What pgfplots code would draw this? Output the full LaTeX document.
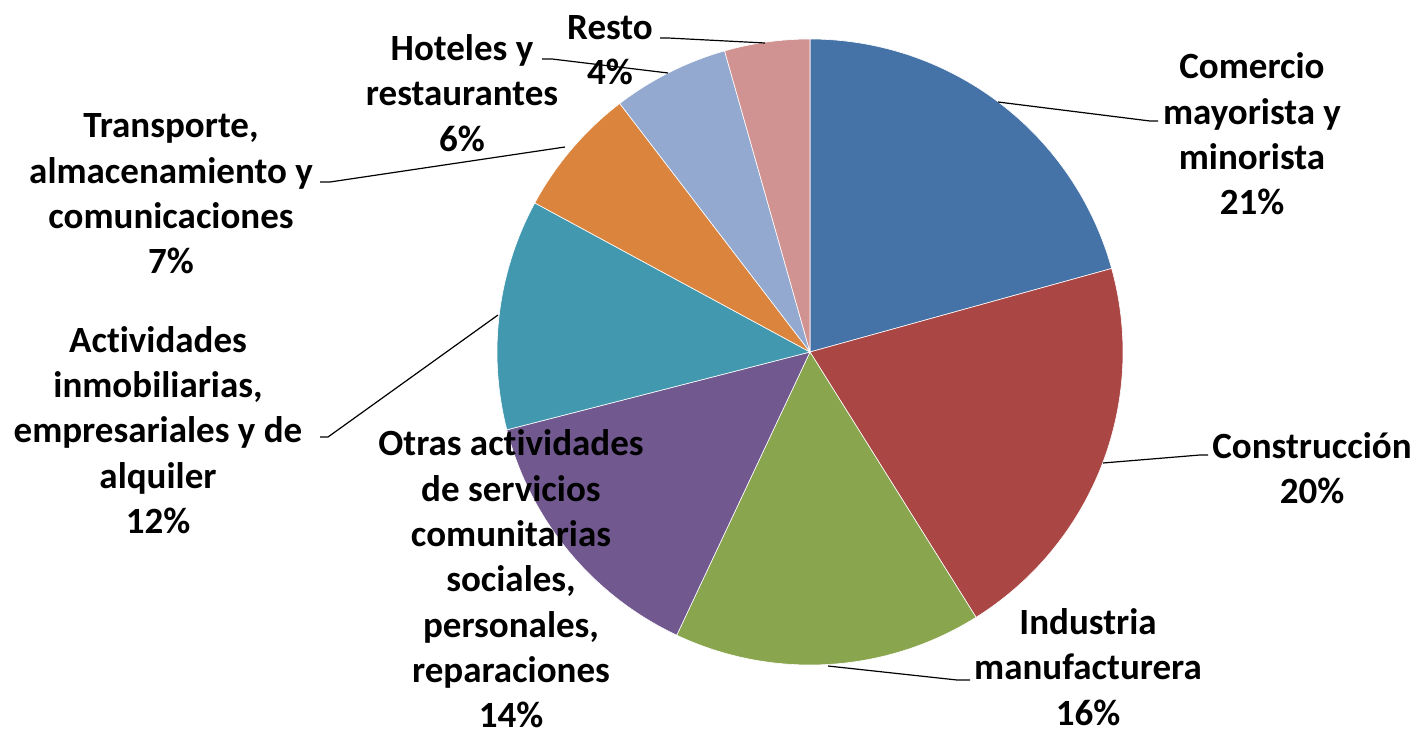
\documentclass[border=0pt]{standalone}
\usepackage{pgfplots}
\pgfplotsset{compat=1.18}
\usepackage{pgfplotstable}
\usepackage{fontspec}
\setmainfont{Carlito}[Ligatures=NoCommon]
\definecolor{cA}{HTML}{4572A7}
\definecolor{cB}{HTML}{AA4643}
\definecolor{cC}{HTML}{89A54E}
\definecolor{cD}{HTML}{71588F}
\definecolor{cE}{HTML}{4198AF}
\definecolor{cF}{HTML}{DB843D}
\definecolor{cG}{HTML}{93A9CF}
\definecolor{cH}{HTML}{D19392}
\pgfplotstableread{
name value
Comercio 20.7
Construccion 20.4
Industria 15.9
Otras 14.0
Actividades 11.9
Transporte 6.7
Hoteles 6.0
Resto 4.4
}\piedata
\pgfmathsetmacro\aO{90}
\pgfplotstablegetelem{0}{value}\of\piedata \pgfmathsetmacro\aI{\aO-3.6*\pgfplotsretval}
\pgfplotstablegetelem{1}{value}\of\piedata \pgfmathsetmacro\aII{\aI-3.6*\pgfplotsretval}
\pgfplotstablegetelem{2}{value}\of\piedata \pgfmathsetmacro\aIII{\aII-3.6*\pgfplotsretval}
\pgfplotstablegetelem{3}{value}\of\piedata \pgfmathsetmacro\aIV{\aIII-3.6*\pgfplotsretval}
\pgfplotstablegetelem{4}{value}\of\piedata \pgfmathsetmacro\aV{\aIV-3.6*\pgfplotsretval}
\pgfplotstablegetelem{5}{value}\of\piedata \pgfmathsetmacro\aVI{\aV-3.6*\pgfplotsretval}
\pgfplotstablegetelem{6}{value}\of\piedata \pgfmathsetmacro\aVII{\aVI-3.6*\pgfplotsretval}
\pgfplotstablegetelem{7}{value}\of\piedata \pgfmathsetmacro\aVIII{\aVII-3.6*\pgfplotsretval}
\newcommand\slice[3]{%
  \addplot[fill=#3, draw=white, line width=0.3pt, domain=#1:#2, samples=80, variable=\t]
    ({810+313*cos(\t)},{352-313*sin(\t)}) -- (axis cs:810,352) -- cycle;}
\tikzset{lbl/.style={font=\fontsize{18.5}{22.65}\selectfont\bfseries, align=center, inner sep=0pt}}
\begin{document}
\begin{tikzpicture}
\begin{axis}[
  width=709pt, height=366pt, scale only axis,
  xmin=0, xmax=1418, ymin=0, ymax=732, y dir=reverse,
  hide axis, clip=false,
]
\path (rel axis cs:0,0) rectangle (rel axis cs:1,1);
\slice{\aI}{\aO}{cA}
\slice{\aII}{\aI}{cB}
\slice{\aIII}{\aII}{cC}
\slice{\aIV}{\aIII}{cD}
\slice{\aV}{\aIV}{cE}
\slice{\aVI}{\aV}{cF}
\slice{\aVII}{\aVI}{cG}
\slice{\aVIII}{\aVII}{cH}
% leader lines
\addplot[black, line width=0.6pt] coordinates {(998,102) (1150,121) (1158,121)};
\addplot[black, line width=0.6pt] coordinates {(1103,463) (1200,455) (1208,455)};
\addplot[black, line width=0.6pt] coordinates {(828,666) (957,680) (970,680)};
\addplot[black, line width=0.6pt] coordinates {(498,315) (328,437) (320,437)};
\addplot[black, line width=0.6pt] coordinates {(565,147) (330,182) (320,182)};
\addplot[black, line width=0.6pt] coordinates {(668,73) (552,59) (542,59)};
\addplot[black, line width=0.6pt] coordinates {(765,43) (668,38) (660,38)};
% labels
\node[lbl] at (axis cs:1252,134) {Comercio\\mayorista y\\minorista\\21\%};
\node[lbl] at (axis cs:1312,468) {Construcción\\20\%};
\node[lbl] at (axis cs:1088,667) {Industria\\manufacturera\\16\%};
\node[lbl] at (axis cs:511,579) {Otras act\kern0pt ividades\\de servicios\\comunitarias\\sociales,\\personales,\\reparaciones\\14\%};
\node[lbl] at (axis cs:158,430) {Act\kern0pt ividades\\inmobiliarias,\\empresariales y de\\alquiler\\12\%};
\node[lbl] at (axis cs:171,194) {Transporte,\\almacenamiento y\\comunicaciones\\7\%};
\node[lbl] at (axis cs:462,93) {Hoteles y\\restaurantes\\6\%};
\node[lbl] at (axis cs:610,50) {Resto\\4\%};
\end{axis}
\end{tikzpicture}
\end{document}
